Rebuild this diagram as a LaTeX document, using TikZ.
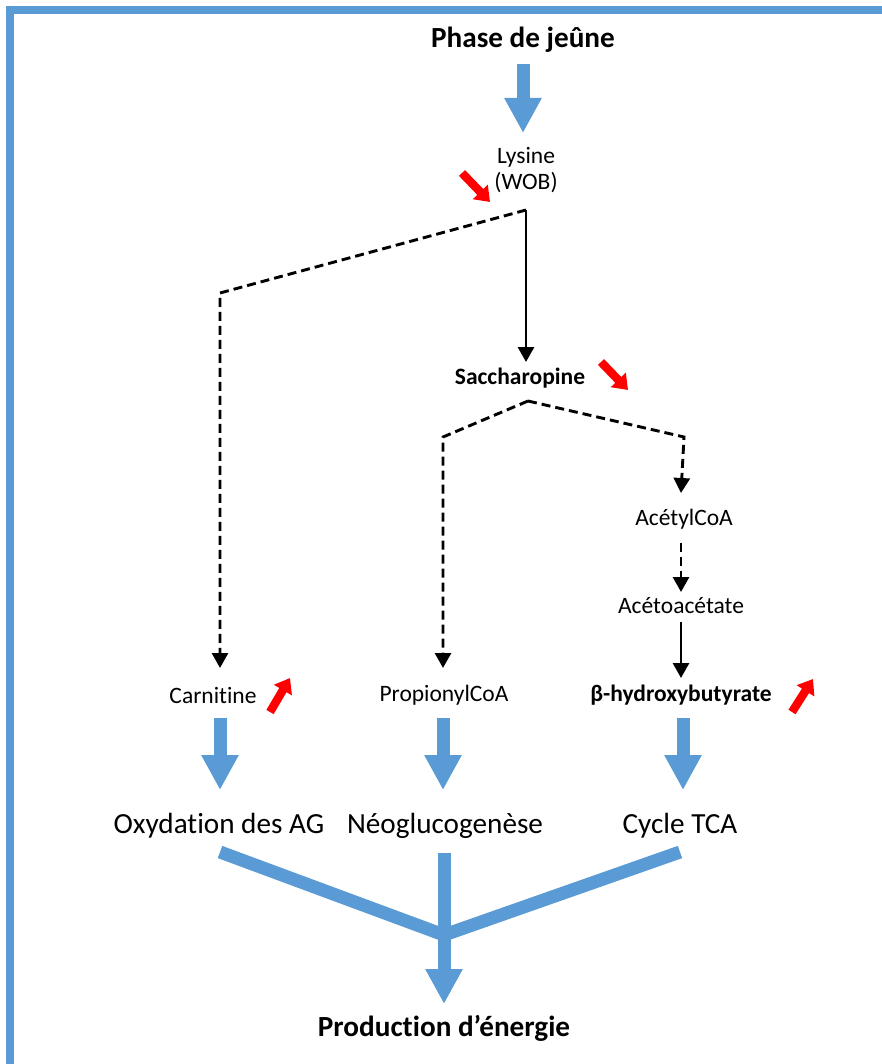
\documentclass[tikz,border=0pt]{standalone}
\usepackage{fontspec}
\setmainfont{Carlito}[Ligatures=NoCommon]
\usepackage{xcolor}
\usepackage{tikz}
\usetikzlibrary{arrows.meta, calc}
\definecolor{officeblue}{RGB}{91,155,213}
\definecolor{alertred}{RGB}{255,0,0}

\begin{document}
\begin{tikzpicture}[x=0.5pt, y=-0.5pt,
    every node/.style={inner sep=0pt},
    small/.style={font=\fontsize{11.75}{13}\selectfont},
    smallbold/.style={font=\fontsize{11.75}{13}\selectfont\bfseries},
    big/.style={font=\fontsize{14.6}{17}\selectfont},
    bigbold/.style={font=\fontsize{14.6}{17}\selectfont\bfseries},
    flow/.style={draw=officeblue, line width=6.5pt, -{Triangle[width=17.5pt,length=17.5pt]}},
    merge/.style={draw=officeblue, line width=6.5pt},
    route/.style={draw=black, line width=1.45pt, -{Triangle[width=8pt,length=7.5pt]}},
    guess/.style={route, dash pattern=on 4.5pt off 2.5pt},
    trend/.style={draw=alertred, line width=4.2pt, -{Triangle[width=10pt,length=7pt]}}]
    \useasboundingbox (0,0) rectangle (882,1064);
    % frame (only top and left edges show)
    \draw[officeblue, line width=4pt] (10,1100) -- (10,10) -- (920,10);

    \node[bigbold] (fasting) at (523,40) {Phase de jeûne};
    \node[small, align=center] (lysine) at (526,170) {Lysine\\(WOB)};
    \node[smallbold] (sacch) at (520,378) {Saccharopine};
    \node[small] (acetyl) at (684,519) {AcétylCoA};
    \node[small] (acetoac) at (681,606) {Acétoacétate};
    \node[small] (carni) at (213,695) {Carnitine};
    \node[small] (propio) at (444,695) {PropionylCoA};
    \node[smallbold] (bhb) at (681,695) {β-hydroxybutyrate};
    \node[big] (fao) at (219,826) {Oxydation des AG};
    \node[big] (neo) at (445,826) {Néoglucogenèse};
    \node[big] (tca) at (680,826) {Cycle TCA};
    \node[bigbold] (energy) at (444,1028) {Production d’énergie};

    \coordinate (lysfork) at (526,210);
    \coordinate (carnibend) at (220,293);
    \coordinate (sacfork) at (528,401);
    \coordinate (propbend) at (443,437);
    \coordinate (acetbend) at (684,437);
    \coordinate (hub) at (444,935);

    % main flow
    \draw[flow] ($(fasting)+(0,24)$) -- ($(fasting |- lysine)+(0,-37)$);
    \draw[route] (lysfork) -- ($(lysfork |- sacch)+(0,-16)$);
    \draw[guess] (lysfork) -- (carnibend) -- ($(carnibend |- carni)+(0,-27)$);
    \draw[guess] (sacfork) -- (propbend) -- ($(propbend |- propio)+(0,-27)$);
    \draw[guess] (sacfork) -- (acetbend) -- ($(acetbend |- acetyl)+(-3,-26)$);
    \draw[guess] ($(acetoac |- acetyl)+(0,24)$) -- ($(acetoac)+(0,-14)$);
    \draw[route] ($(acetoac)+(0,16)$) -- ($(acetoac |- bhb)+(0,-17)$);

    % up / down markers
    \draw[trend] ($(lysine)+(-64,3)$) -- ++(28,29);
    \draw[trend] ($(sacch)+(81,-16)$) -- ++(27,28);
    \draw[trend] ($(carni)+(57,17)$) -- ++(20,-34);
    \draw[trend] ($(bhb)+(111,17)$) -- ++(21,-33);

    % towards the pathways
    \draw[flow] ($(fao |- carni)+(1,23)$) -- ($(fao)+(1,-36)$);
    \draw[flow] ($(propio)+(-1,23)$) -- ($(neo)+(-2,-36)$);
    \draw[flow] ($(bhb)+(2,23)$) -- ($(tca)+(3,-36)$);

    % merging into energy
    \draw[merge] ($(fao)+(1,26)$) -- (hub);
    \draw[merge] ($(tca)+(0,26)$) -- (hub);
    \draw[flow] ($(neo)+(-1,27)$) -- ($(energy)+(0,-24)$);
\end{tikzpicture}
\end{document}
